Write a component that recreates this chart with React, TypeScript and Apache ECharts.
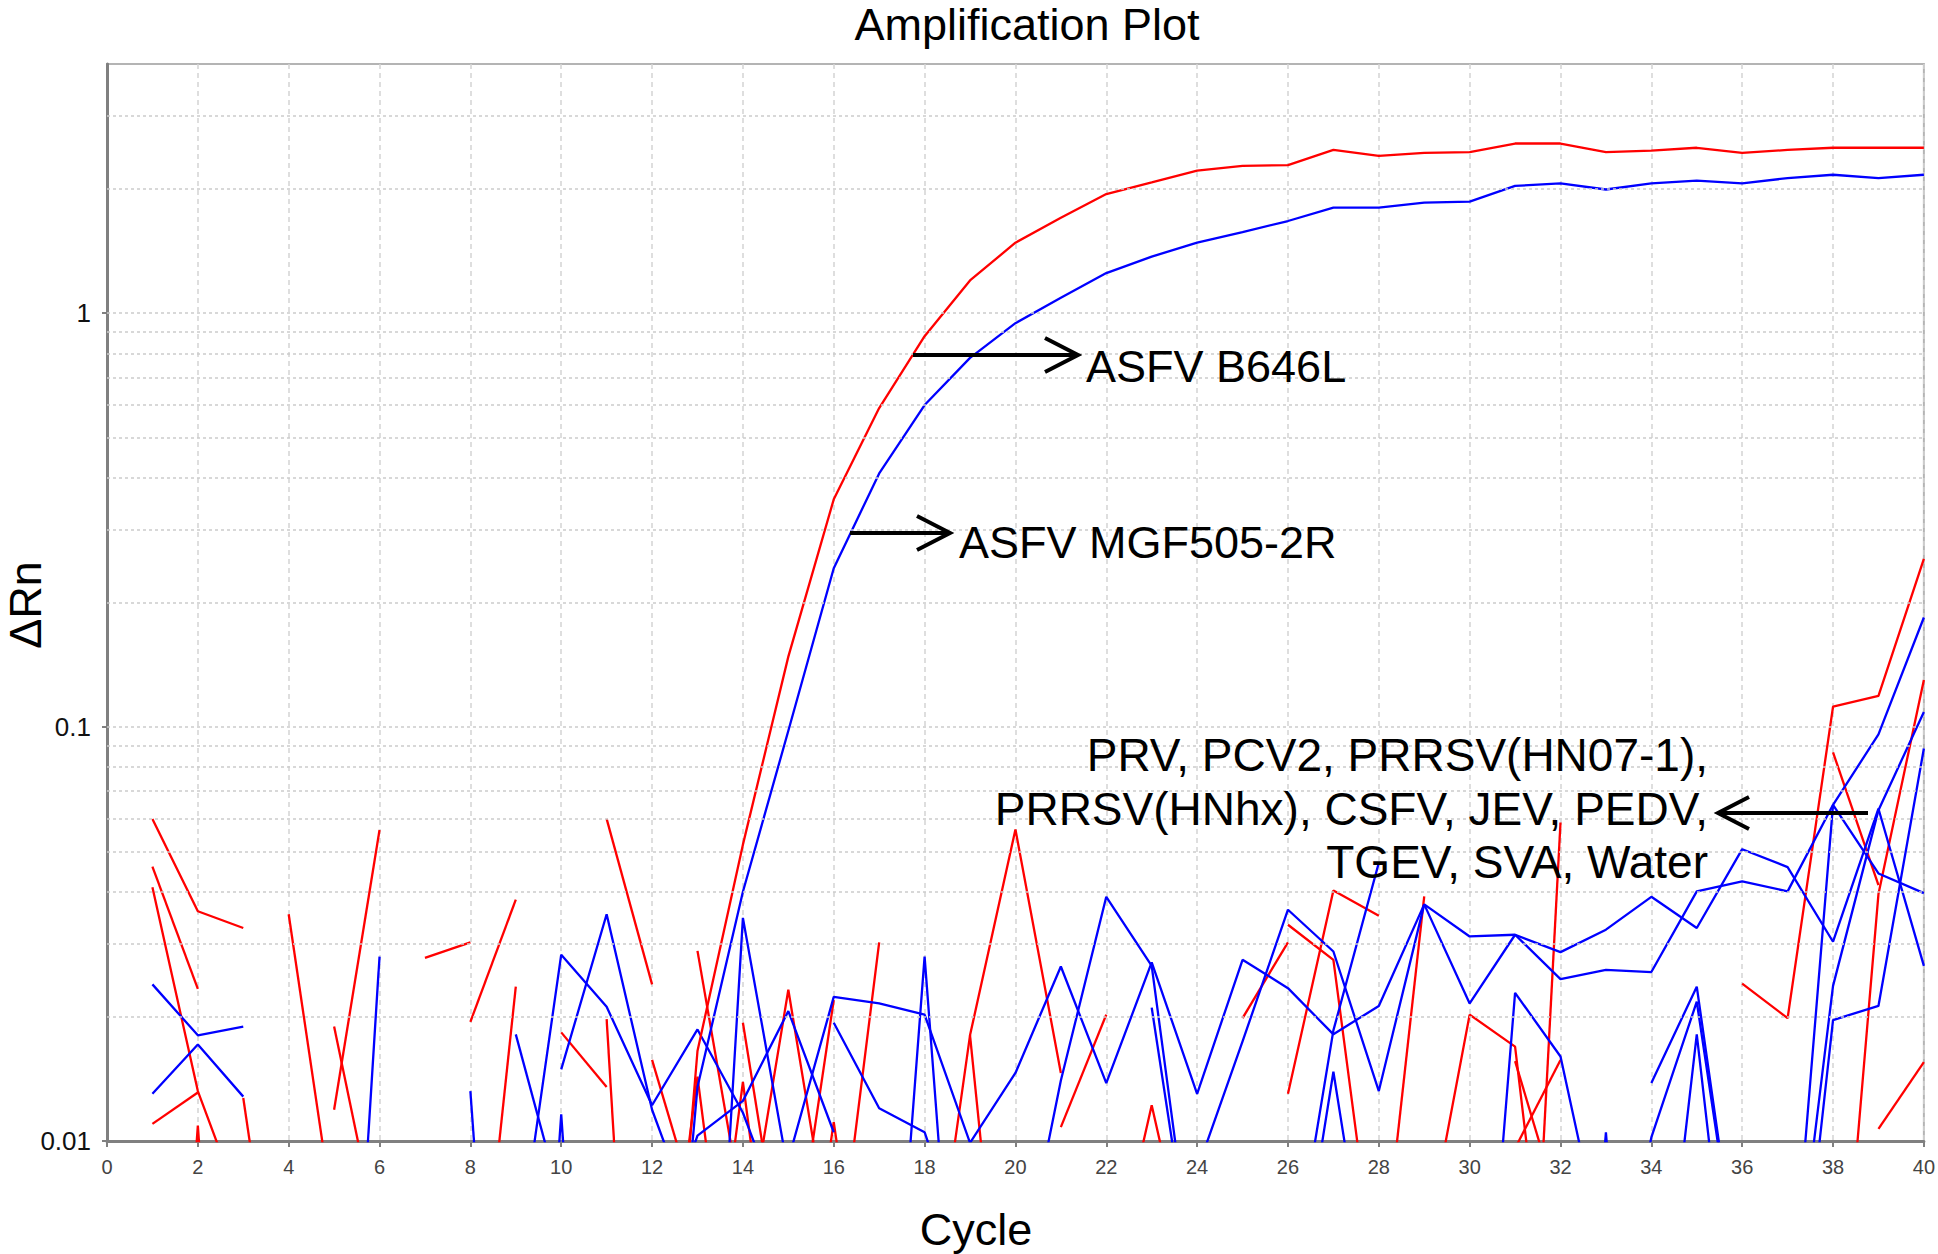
import React, { useEffect, useRef } from "react";
import * as echarts from "echarts";

// ---------- data ----------
const cycles = [1,2,3,4,5,6,7,8,9,10,11,12,13,14,15,16,17,18,19,20,21,22,23,24,25,26,27,28,29,30,31,32,33,34,35,36,37,38,39,40];

// ASFV B646L (red) and ASFV MGF505-2R (blue) amplification curves, one value per cycle
const redMain = [null,null,null,null,null,null,null,null,null,null,null,0.0008,0.0165,0.052,0.148,0.355,0.59,0.88,1.20,1.48,1.70,1.94,2.07,2.21,2.27,2.28,2.48,2.40,2.44,2.45,2.57,2.57,2.45,2.47,2.51,2.44,2.48,2.51,2.51,2.51];
const blueMain = [null,null,null,null,null,null,null,null,null,null,null,0.0008,0.0135,0.040,0.098,0.242,0.41,0.60,0.78,0.946,1.09,1.25,1.37,1.48,1.57,1.67,1.80,1.80,1.85,1.86,2.03,2.06,1.99,2.06,2.09,2.06,2.12,2.16,2.12,2.16];

// negative samples: visible pieces of the noisy traces, [cycle, ΔRn]
const r01 = [[1,0.060],[2,0.0359],[3,0.0327]];
const r02 = [[1,0.046],[2,0.0233]];
const r03 = [[1,0.041],[2,0.0132],[3,0.0067]];
const r04 = [[1,0.0110],[2,0.0131]];
const r05 = [[1,0.0003],[2,0.0109],[3,0.0003]];
const r06 = [[3,0.0127],[4,0.0023]];
const r07 = [[4,0.0353],[5,0.0064]];
const r08 = [[5,0.0189],[6,0.0056]];
const r09 = [[5,0.0119],[6,0.0564]];
const r10 = [[7,0.0277],[8,0.0302]];
const r11 = [[8,0.0194],[9,0.0383]];
const r12 = [[8,0.0022],[9,0.0236]];
const r13 = [[10,0.0183],[11,0.0135]];
const r14 = [[11,0.060],[12,0.0239]];
const r15 = [[11,0.0197],[12,0.0003]];
const r16 = [[12,0.0157],[13,0.0067]];
const r17 = [[13,0.0288],[14,0.0067]];
const r18 = [[12,0.002],[13,0.0143],[14,0.002]];
const r19 = [[14,0.0193],[15,0.004]];
const r20 = [[13,0.002],[14,0.0139],[15,0.002]];
const r21 = [[14,0.005],[15,0.0232],[16,0.005]];
const r22 = [[15,0.004],[16,0.0219]];
const r23 = [[15,0.002],[16,0.0111],[17,0.002]];
const r24 = [[16,0.004],[17,0.0302]];
const r25 = [[18,0.003],[19,0.018],[20,0.0566],[21,0.0146]];
const r26 = [[19,0.018],[20,0.0015]];
const r27 = [[21,0.0108],[22,0.0202]];
const r28 = [[22,0.004],[23,0.0122],[24,0.004]];
const r29 = [[25,0.0198],[26,0.0302]];
const r30 = [[26,0.0333],[27,0.0274],[28,0.004]];
const r31 = [[26,0.0130],[27,0.0403],[28,0.0350]];
const r32 = [[28,0.004],[29,0.0390]];
const r33 = [[29,0.0053],[30,0.0202],[31,0.0169],[32,0.002]];
const r34 = [[31,0.0156],[32,0.0067]];
const r35 = [[31,0.0096],[32,0.0157]];
const r36 = [[31,0.0005],[32,0.0588]];
const r37 = [[36,0.0240],[37,0.0198],[38,0.112],[39,0.119],[40,0.255]];
const r38 = [[38,0.0869],[39,0.0415]];
const r39 = [[38,0.002],[39,0.0395],[40,0.130]];
const r40 = [[39,0.0107],[40,0.0155]];

const b01 = [[1,0.0239],[2,0.0180],[3,0.0189]];
const b02 = [[1,0.0130],[2,0.0171],[3,0.0128]];
const b03 = [[5,0.0005],[6,0.0279]];
const b04 = [[8,0.0132],[9,0.0004]];
const b05 = [[9,0.0181],[10,0.0071]];
const b06 = [[9,0.0048],[10,0.0282],[11,0.0211],[12,0.0122],[13,0.0186],[14,0.0117],[15,0.006]];
const b07 = [[10,0.0149],[11,0.0353],[12,0.0119],[13,0.006]];
const b08 = [[9,0.0003],[10,0.0116],[11,0.0003]];
const b09 = [[12,0.005],[13,0.0103],[14,0.0125],[15,0.0206],[16,0.0105]];
const b10 = [[13,0.0005],[14,0.0346],[15,0.0084]];
const b11 = [[15,0.009],[16,0.0223],[17,0.0215],[18,0.0202],[19,0.0099],[20,0.0146],[21,0.0264],[22,0.0138],[23,0.027],[24,0.013],[25,0.0274],[26,0.0234],[27,0.0181],[28,0.0212],[29,0.0373],[30,0.0215],[31,0.0315],[32,0.0246],[33,0.0259],[34,0.0256],[35,0.0401],[36,0.0424],[37,0.0401],[38,0.0649],[39,0.096],[40,0.184]];
const b12 = [[16,0.0193],[17,0.0120],[18,0.0105],[19,0.005]];
const b13 = [[17,0.001],[18,0.0279],[19,0.001]];
const b14 = [[20,0.004],[21,0.0140],[22,0.0389],[23,0.0265],[24,0.004]];
const b15 = [[23,0.0210],[24,0.004]];
const b16 = [[24,0.0085],[25,0.0174],[26,0.0362],[27,0.0287],[28,0.0132],[29,0.0373],[30,0.0312],[31,0.0315],[32,0.0286],[33,0.0324],[34,0.0389],[35,0.0327],[36,0.0507],[37,0.0459],[38,0.0303],[39,0.0635],[40,0.0265]];
const b17 = [[26,0.004],[27,0.0185],[28,0.047]];
const b18 = [[26,0.003],[27,0.0147],[28,0.003]];
const b19 = [[30,0.001],[31,0.0228],[32,0.0160],[33,0.005]];
const b20 = [[32,0.0004],[33,0.0105],[34,0.0004]];
const b21 = [[34,0.0138],[35,0.0236],[36,0.004]];
const b22 = [[33,0.003],[34,0.0102],[35,0.0217],[36,0.004]];
const b23 = [[34,0.002],[35,0.0181],[36,0.002]];
const b24 = [[37,0.002],[38,0.0196],[39,0.0212],[40,0.0888]];
const b25 = [[37,0.003],[38,0.0649],[39,0.0443],[40,0.0397]];
const b26 = [[37,0.003],[38,0.0237],[39,0.063],[40,0.1087]];

const redNoise = [r01,r02,r03,r04,r05,r06,r07,r08,r09,r10,r11,r12,r13,r14,r15,r16,r17,r18,r19,r20,r21,r22,r23,r24,r25,r26,r27,r28,r29,r30,r31,r32,r33,r34,r35,r36,r37,r38,r39,r40];
const blueNoise = [b01,b02,b03,b04,b05,b06,b07,b08,b09,b10,b11,b12,b13,b14,b15,b16,b17,b18,b19,b20,b21,b22,b23,b24,b25,b26];

// axis ticks / gridlines
const yTickValues = [0.01, 0.1, 1];
const yGridValues = [0.02,0.03,0.04,0.05,0.06,0.07,0.08,0.09,0.1,0.2,0.3,0.4,0.5,0.6,0.7,0.8,0.9,1,2,3];

const RED = "#ff0000";
const BLUE = "#0000ff";
const FONT = '"Liberation Sans", Arial, Helvetica, sans-serif';

function lineSeries(data: any[], color: string) {
  return {
    type: "line",
    data,
    symbol: "none",
    showSymbol: false,
    connectNulls: false,
    clip: true,
    silent: true,
    z: 3,
    lineStyle: { color, width: 2.3 },
    itemStyle: { color },
  };
}

function arrow(x1: number, x2: number, y: number, head: number, half: number) {
  const dir = x2 > x1 ? 1 : -1;
  return [
    { type: "line", shape: { x1, y1: y, x2, y2: y }, style: { stroke: "#000", lineWidth: 4 }, z: 10 },
    {
      type: "polyline",
      shape: { points: [[x2 - dir * head, y - half], [x2, y], [x2 - dir * head, y + half]] },
      style: { stroke: "#000", lineWidth: 4, fill: null },
      z: 10,
    },
  ];
}

function fmtY(v: number) {
  for (const t of yTickValues) if (Math.abs(v - t) / t < 1e-6) return String(t);
  return "";
}

function label(text: string, x: number, y: number, align: string, size: number, extra: any = {}) {
  return {
    type: "text",
    x,
    y,
    z: 10,
    ...extra,
    style: { text, fill: "#000", fontSize: size, fontFamily: FONT, align, verticalAlign: "middle" },
  };
}

export default function App() {
  const ref = useRef<HTMLDivElement>(null);
  useEffect(() => {
    if (!ref.current) return;
    const chart = echarts.init(ref.current, undefined, { renderer: "svg" });
    const series: any[] = [];
    series.push({
      type: "line",
      data: [[0, 1]],
      symbol: "none",
      silent: true,
      z: 1,
      lineStyle: { opacity: 0 },
      markLine: {
        silent: true,
        symbol: ["none", "none"],
        label: { show: false },
        animation: false,
        lineStyle: { type: [3, 3], color: "#cbcbcb", width: 1.5 },
        data: yGridValues.map((v) => ({ yAxis: v })),
      },
    });
    redNoise.forEach((d) => series.push(lineSeries(d, RED)));
    blueNoise.forEach((d) => series.push(lineSeries(d, BLUE)));
    series.push(lineSeries(cycles.map((c, i) => [c, redMain[i]]), RED));
    series.push(lineSeries(cycles.map((c, i) => [c, blueMain[i]]), BLUE));

    const option: any = {
      animation: false,
      backgroundColor: "#ffffff",
      grid: {
        left: 107,
        right: 14,
        top: 64,
        bottom: 113,
        show: true,
        borderColor: "#b4b4b4",
        borderWidth: 2,
        backgroundColor: "transparent",
      },
      xAxis: {
        type: "value",
        min: 0,
        max: 40,
        interval: 2,
        axisLine: { show: true, onZero: false, lineStyle: { color: "#808080", width: 3 } },
        axisTick: { show: true, length: 6, lineStyle: { color: "#808080", width: 2 } },
        axisLabel: { fontSize: 20, color: "#444", margin: 16, fontFamily: FONT },
        splitLine: { show: true, lineStyle: { type: [5, 4], color: "#d4d4d4", width: 1.5 } },
      },
      yAxis: {
        type: "log",
        logBase: 10,
        min: 0.01,
        max: 4,
        axisLine: { show: true, lineStyle: { color: "#808080", width: 3 } },
        axisTick: { show: true, length: 5, customValues: yTickValues, lineStyle: { color: "#808080", width: 2 } },
        axisLabel: {
          customValues: yTickValues,
          formatter: (v: number) => fmtY(v),
          fontSize: 26,
          color: "#111",
          margin: 16,
          fontFamily: FONT,
        },
        splitLine: { show: false },
      },
      graphic: [
        label("Amplification Plot", 1027, 24, "center", 45),
        label("Cycle", 976, 1229, "center", 45),
        label("ΔRn", 25, 605, "center", 45, { rotation: Math.PI / 2 }),
        label("ASFV B646L", 1086, 366, "left", 45),
        label("ASFV MGF505-2R", 959, 542, "left", 45),
        label("PRV, PCV2, PRRSV(HN07-1),", 1708, 755, "right", 46),
        label("PRRSV(HNhx), CSFV, JEV, PEDV,", 1708, 809, "right", 46),
        label("TGEV, SVA, Water", 1708, 862, "right", 46),
        ...arrow(913, 1078, 355, 33, 17),
        ...arrow(850, 950, 533, 33, 17),
        ...arrow(1868, 1718, 813, 31, 16),
      ],
      series,
    };
    chart.setOption(option);
    return () => chart.dispose();
  }, []);
  return (
    <div
      ref={ref}
      style={{ position: "fixed", left: 0, top: 0, width: 1938, height: 1254, background: "#fff" }}
    />
  );
}
